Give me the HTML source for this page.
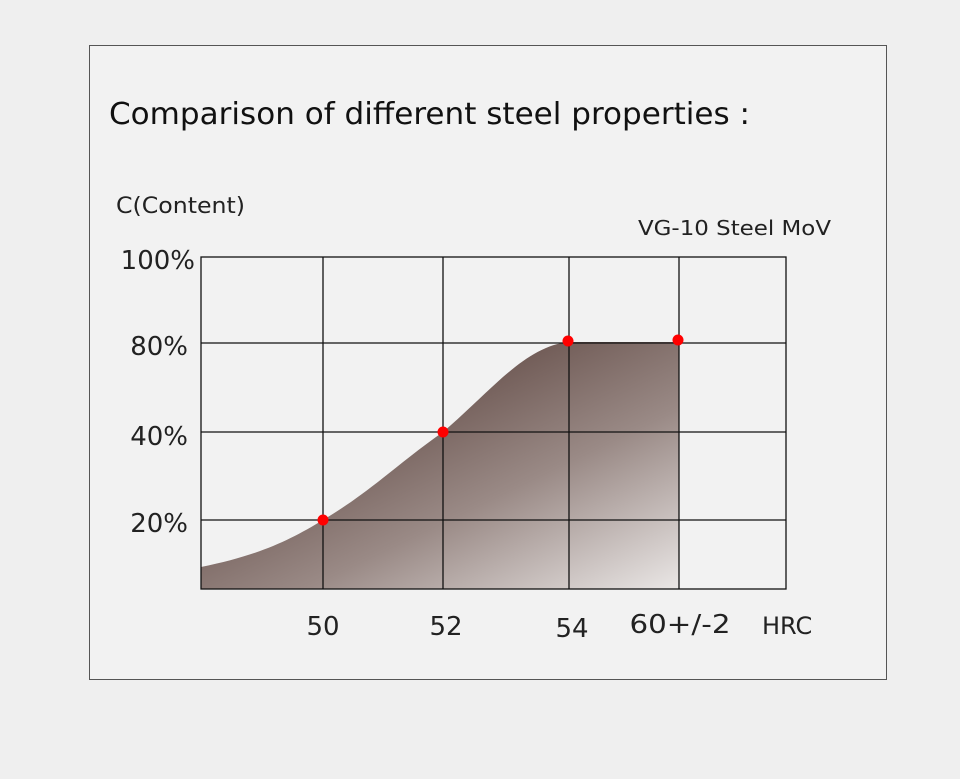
<!DOCTYPE html>
<html><head><style>
body{margin:0;width:960px;height:775px;background:#efefef;overflow:hidden;font-family:"DejaVu Sans","Liberation Sans",sans-serif;}
</style></head><body>
<svg width="960" height="775" xmlns="http://www.w3.org/2000/svg">
<defs>
<linearGradient id="g" gradientUnits="userSpaceOnUse" x1="470" y1="360" x2="600" y2="630">
<stop offset="0" stop-color="#6b5550"/>
<stop offset="0.45" stop-color="#9a8a86"/>
<stop offset="1" stop-color="#ebe8e7"/>
</linearGradient>
</defs>
<rect x="89.5" y="45.5" width="797" height="634" fill="#f2f2f2" stroke="#555" stroke-width="1"/>
<text x="109" y="124" font-size="30" fill="#111" textLength="641" lengthAdjust="spacingAndGlyphs">Comparison of different steel properties :</text>
<text x="116" y="213" font-size="22" fill="#222" textLength="129" lengthAdjust="spacingAndGlyphs">C(Content)</text>
<text x="638" y="235" font-size="20" fill="#222" textLength="193" lengthAdjust="spacingAndGlyphs">VG-10 Steel MoV</text>
<path d="M201,567 C260,555 290,540 323,520 C370,492 400,462 443,432 C490,392 525,346 569,342 L679,342 L679,589 L201,589 Z" fill="url(#g)"/>
<g stroke="#111" stroke-width="1.3" fill="none">
<rect x="201" y="257" width="585" height="332"/>
<line x1="323" y1="257" x2="323" y2="589"/>
<line x1="443" y1="257" x2="443" y2="589"/>
<line x1="569" y1="257" x2="569" y2="589"/>
<line x1="679" y1="257" x2="679" y2="589"/>
<line x1="201" y1="343" x2="786" y2="343"/>
<line x1="201" y1="432" x2="786" y2="432"/>
<line x1="201" y1="520" x2="786" y2="520"/>
</g>
<g fill="#f00">
<circle cx="323" cy="520" r="5.5"/><circle cx="443" cy="432" r="5.5"/>
<circle cx="568" cy="341" r="5.5"/><circle cx="678" cy="340" r="5.5"/>
</g>
<g font-size="26" fill="#222" text-anchor="end">
<text x="195" y="269">100%</text>
<text x="188" y="355">80%</text>
<text x="188" y="445">40%</text>
<text x="188" y="532">20%</text>
</g>
<g font-size="26" fill="#222" text-anchor="middle">
<text x="323" y="635">50</text>
<text x="446" y="635">52</text>
<text x="572" y="637">54</text>
<text x="680" y="633" textLength="101" lengthAdjust="spacingAndGlyphs">60+/-2</text>
</g>
<text x="762" y="634" font-size="24" fill="#222">HRC</text>
</svg>
</body></html>
